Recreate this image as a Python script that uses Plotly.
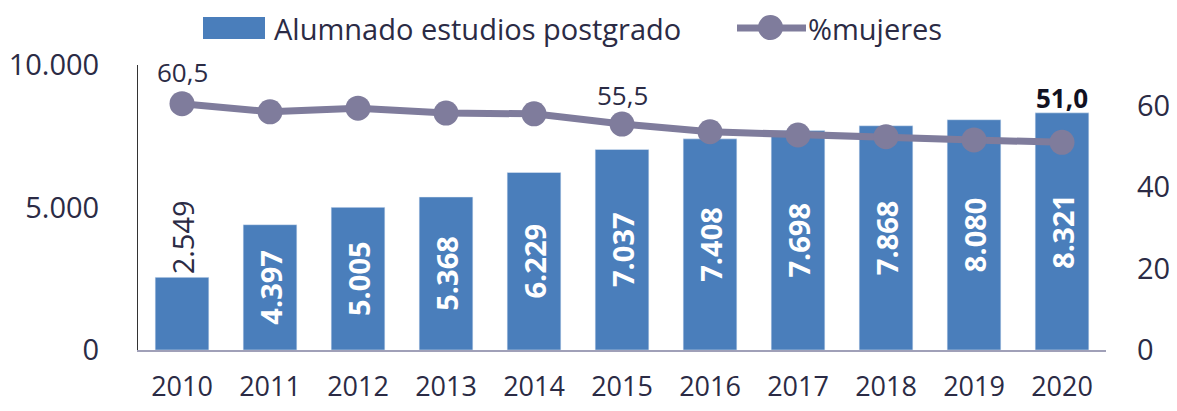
import plotly.graph_objects as go

years = ["2010", "2011", "2012", "2013", "2014", "2015", "2016", "2017", "2018", "2019", "2020"]
alumnado = [2549, 4397, 5005, 5368, 6229, 7037, 7408, 7698, 7868, 8080, 8321]
pct_mujeres = [60.5, 58.5, 59.4, 58.2, 58.0, 55.5, 53.6, 52.8, 52.4, 51.6, 51.0]
bar_labels = ["2.549", "4.397", "5.005", "5.368", "6.229", "7.037", "7.408", "7.698", "7.868", "8.080", "8.321"]
line_labels = {"2010": "60,5", "2015": "55,5", "2020": "<b>51,0</b>"}
left_ticks = [0, 5000, 10000]
left_ticktext = ["0", "5.000", "10.000"]
right_ticks = [0, 20, 40, 60]
legend_names = ["Alumnado estudios postgrado", "%mujeres"]

BAR = "#4a7ebb"
LINE = "#7f7c9c"
TXT = "#2b2b45"
FONT = "Open Sans"

# plot area in screen pixels (page body adds an 8px offset)
W, H = 1169, 395
PX0, PX1, PY0, PY1 = 138, 1106, 65, 350
def px(x):
    return (x - PX0) / (PX1 - PX0)
def py(y):
    return (PY1 - y) / (PY1 - PY0)

fig = go.Figure()
fig.add_trace(go.Bar(
    x=years, y=alumnado, name=legend_names[0], marker_color=BAR,
    text=bar_labels, textangle=-90,
    textposition=["outside"] + ["inside"] * (len(years) - 1),
    insidetextanchor="middle",
    insidetextfont=dict(family=FONT, size=29, color="white", weight=700),
    outsidetextfont=dict(family=FONT, size=29, color=TXT, weight=400),
    constraintext="none", cliponaxis=False, showlegend=False,
))
fig.add_trace(go.Scatter(
    x=years, y=pct_mujeres, name=legend_names[1], yaxis="y2", mode="lines+markers",
    line=dict(color=LINE, width=7), marker=dict(size=25, color=LINE),
    cliponaxis=False, showlegend=False,
))

shifts = {"2010": 12, "2015": 9, "2020": 24}
for yr, lab in line_labels.items():
    i = years.index(yr)
    fig.add_annotation(x=i, y=pct_mujeres[i], yref="y2", text=lab, showarrow=False,
                       yanchor="bottom", yshift=shifts[yr],
                       font=dict(family=FONT, size=26, color="#111122" if yr == "2020" else TXT))

# custom legend
fig.add_shape(type="rect", xref="paper", yref="paper", x0=px(203), x1=px(265),
              y0=py(39), y1=py(17), fillcolor=BAR, line=dict(width=0))
fig.add_annotation(xref="paper", yref="paper", x=px(272), y=py(28), text=legend_names[0],
                   showarrow=False, xanchor="left", yanchor="middle",
                   font=dict(family=FONT, size=29, color=TXT))
fig.add_shape(type="line", xref="paper", yref="paper", x0=px(737), x1=px(806),
              y0=py(28), y1=py(28), line=dict(color=LINE, width=7))
fig.add_shape(type="circle", xref="paper", yref="paper", x0=px(758), x1=px(783),
              y0=py(40), y1=py(15), fillcolor=LINE, line=dict(width=0))
fig.add_annotation(xref="paper", yref="paper", x=px(806), y=py(28), text=legend_names[1],
                   showarrow=False, xanchor="left", yanchor="middle",
                   font=dict(family=FONT, size=29, color=TXT))

fig.update_layout(
    width=W, height=H,
    margin=dict(l=PX0 - 8, r=W + 8 - PX1, t=PY0 - 8, b=H + 8 - PY1),
    paper_bgcolor="white", plot_bgcolor="white",
    bargap=0.39,
    font=dict(family=FONT, size=26, color=TXT),
    xaxis=dict(type="category", range=[-0.5, len(years) - 0.5], showgrid=False, showline=True,
               linecolor="#a0a0b8", linewidth=2,
               ticks="", tickfont=dict(size=27, color=TXT), ticklabelstandoff=12, automargin=False),
    yaxis=dict(range=[0, 10000], tickvals=left_ticks, ticktext=left_ticktext, showgrid=False,
               zeroline=False, showline=True, linecolor="#333333", linewidth=1,
               ticks="", tickfont=dict(size=29, color=TXT), ticklabelstandoff=32, automargin=False),
    yaxis2=dict(range=[0, 70], tickvals=right_ticks, overlaying="y", side="right",
                showgrid=False, zeroline=False, showline=False, ticks="",
                tickfont=dict(size=29, color=TXT), ticklabelstandoff=30, automargin=False),
)

fig.write_html("out.html")
